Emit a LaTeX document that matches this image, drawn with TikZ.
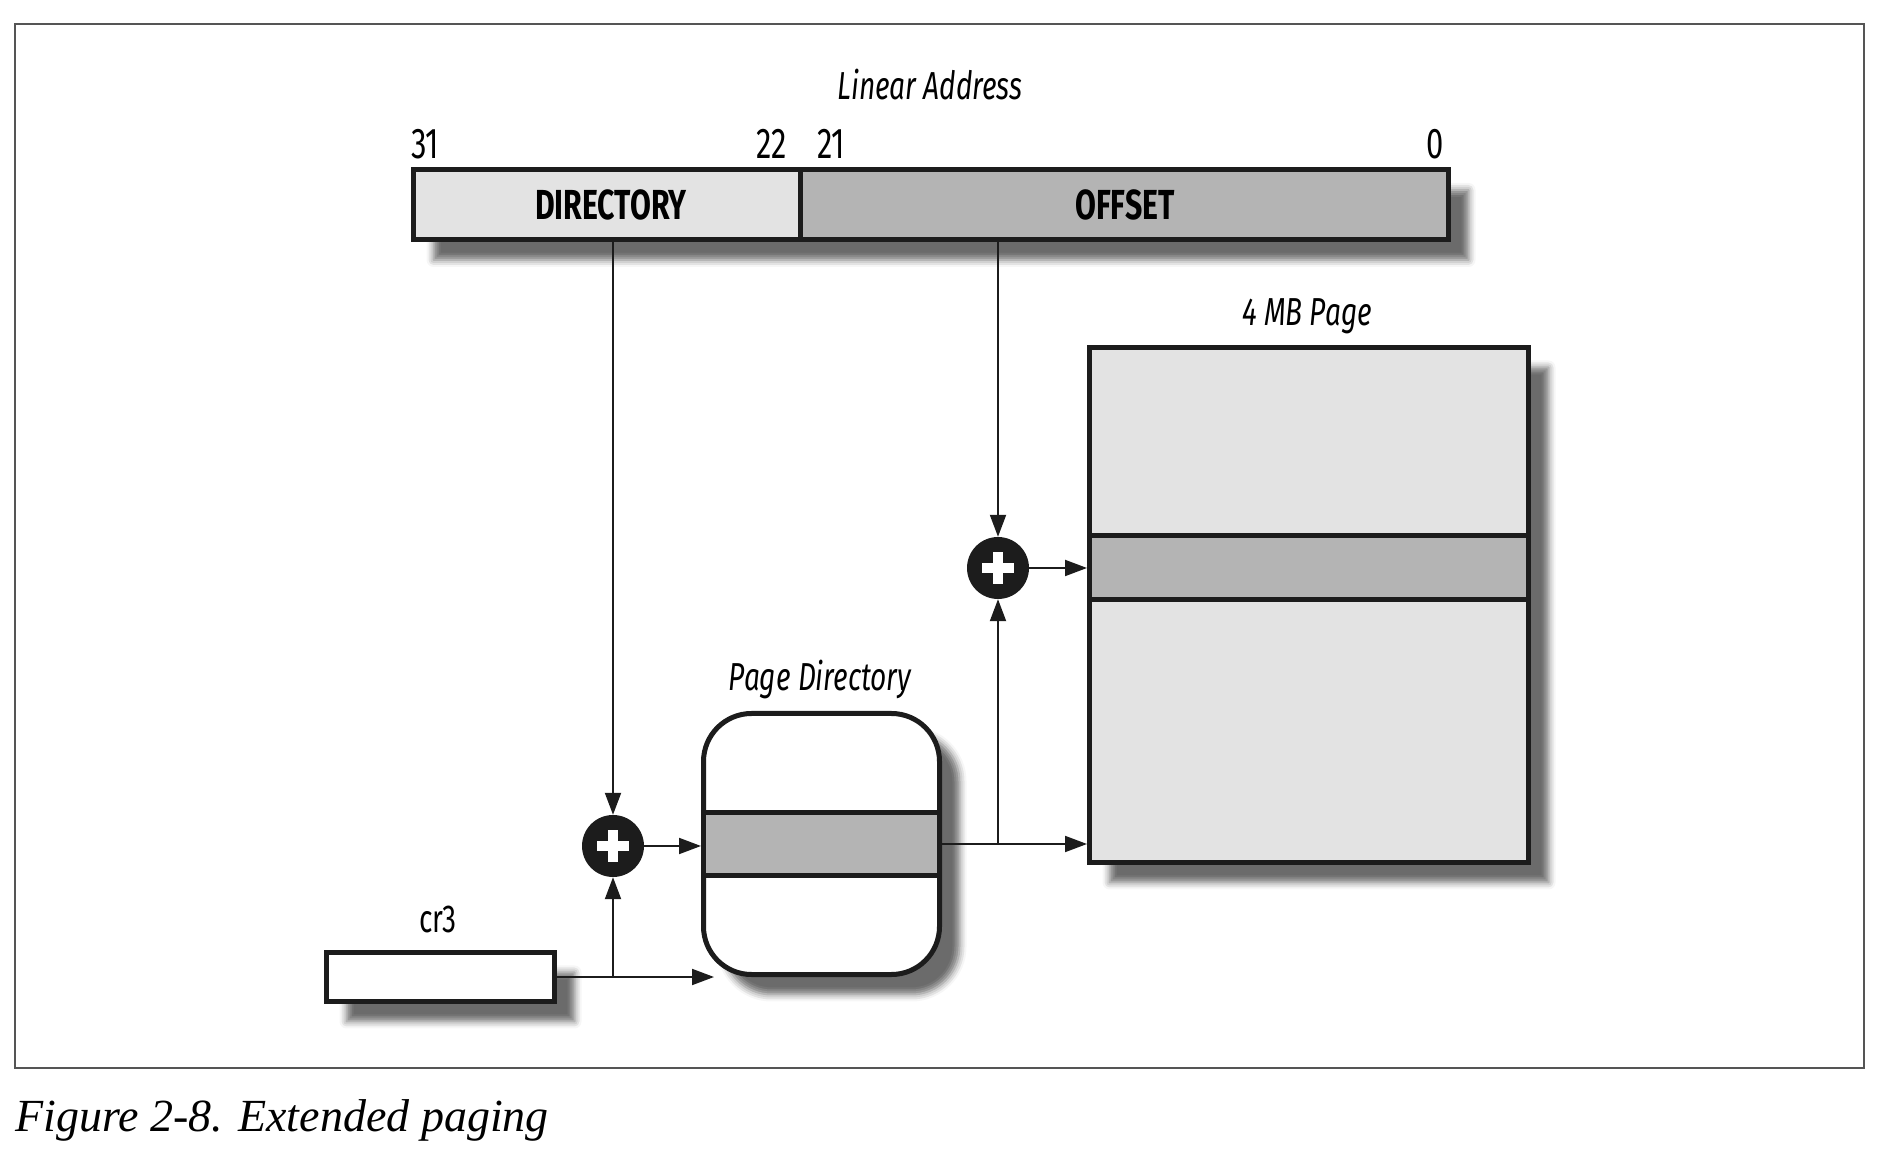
\documentclass[tikz,border=0pt]{standalone}
\usepackage{fontspec}
\newfontfamily\figfont{Fira Sans}[FakeStretch=0.72]
\newfontfamily\capfont{Liberation Serif}
\usetikzlibrary{arrows.meta,shadows.blur}

\definecolor{lightfill}{HTML}{E3E3E3}
\definecolor{darkfill}{HTML}{B4B4B4}
\definecolor{inkline}{HTML}{1C1C1C}
\definecolor{framegray}{HTML}{555555}

\begin{document}
\begin{tikzpicture}[x=1pt,y=1pt,
  field/.style={draw=inkline, line width=5pt, inner sep=0pt},
  castshadow/.style={blur shadow={shadow xshift=20pt, shadow yshift=-20pt, shadow blur radius=7pt, shadow opacity=58}},
  adder/.style={circle, fill=inkline, minimum size=62pt, inner sep=0pt,
    path picture={\draw[white, line width=10pt]
      ([xshift=-16pt]path picture bounding box.center) -- ([xshift=16pt]path picture bounding box.center)
      ([yshift=-16pt]path picture bounding box.center) -- ([yshift=16pt]path picture bounding box.center);}},
  link/.style={line width=2pt, draw=inkline, -{Triangle[length=22pt,width=16pt]}},
  lbl/.style={font=\figfont\fontsize{39}{43}\selectfont, inner sep=0pt},
  lbln/.style={font=\figfont\fontsize{43}{47}\selectfont, inner sep=0pt},
  lbli/.style={font=\figfont\itshape\fontsize{39}{43}\selectfont, inner sep=0pt},
  lblb/.style={font=\figfont\bfseries\fontsize{42}{46}\selectfont, inner sep=0pt}]
\useasboundingbox (0,0) rectangle (1882,1160);
\draw[framegray, line width=2pt] (15,92) rectangle (1864,1136);

% linear address
\node[lbli] (title) at (930,1075) {Linear Address};
\node[field, castshadow, fill=darkfill, minimum width=1035pt, minimum height=70pt] (addr) at (931,955) {};
\node[field, fill=lightfill, anchor=west, minimum width=387pt, minimum height=70pt] (dir) at (addr.west) {};
\node[lblb] (dirtxt) at (611,955) {DIRECTORY};
\node[lblb] (offtxt) at (1125,955) {OFFSET};
\node[lbln, anchor=west] (b31) at (411,1016) {31};
\node[lbln, anchor=east] (b22) at (787,1016) {22};
\node[lbln, anchor=west] (b21) at (817,1016) {21};
\node[lbln, anchor=east] (b0) at (1444,1016) {0};

% 4 MB page
\node[lbli] (pagelbl) at (1307,844) {4 MB Page};
\node[field, castshadow, fill=lightfill, minimum width=439pt, minimum height=515pt] (page) at (1309,555) {};
\node[field, fill=darkfill, minimum width=439pt, minimum height=64pt] (pageslot) at (1309,592) {};

% page directory
\node[lbli] (pdlbl) at (820,480) {Page Directory};
\node[field, castshadow, fill=white, rounded corners=48pt, minimum width=236pt, minimum height=261pt] (pd) at (821.5,316) {};
\node[field, fill=darkfill, minimum width=236pt, minimum height=63pt] (pdslot) at (pd.center) {};

% cr3
\node[lbl] (crlbl) at (438,241) {cr3};
\node[field, castshadow, fill=white, minimum width=228pt, minimum height=49pt] (cr3) at (440.5,183) {};

% adders
\node[adder] (plusA) at (613,314) {};
\node[adder] (plusB) at (998,592) {};

% connectors
\draw[link] (addr.south -| plusA) -- (plusA.north);
\draw[link] (cr3.east) -- ([xshift=13pt]cr3.east -| pd.west);
\draw[link] (cr3.east -| plusA) -- (plusA.south);
\draw[link] (plusA.east) -- (plusA.east -| pd.west);
\draw[link] (pd.east) -- (pd.east -| page.west);
\draw[link] (pd.east -| plusB) -- (plusB.south);
\draw[link] (addr.south -| plusB) -- (plusB.north);
\draw[link] (plusB.east) -- (plusB.east -| page.west);

\node[anchor=west, font=\capfont\itshape\fontsize{46}{50}\selectfont, inner sep=0pt] (caption) at (15,40) {Figure 2-8. Extended paging};
\end{tikzpicture}
\end{document}
